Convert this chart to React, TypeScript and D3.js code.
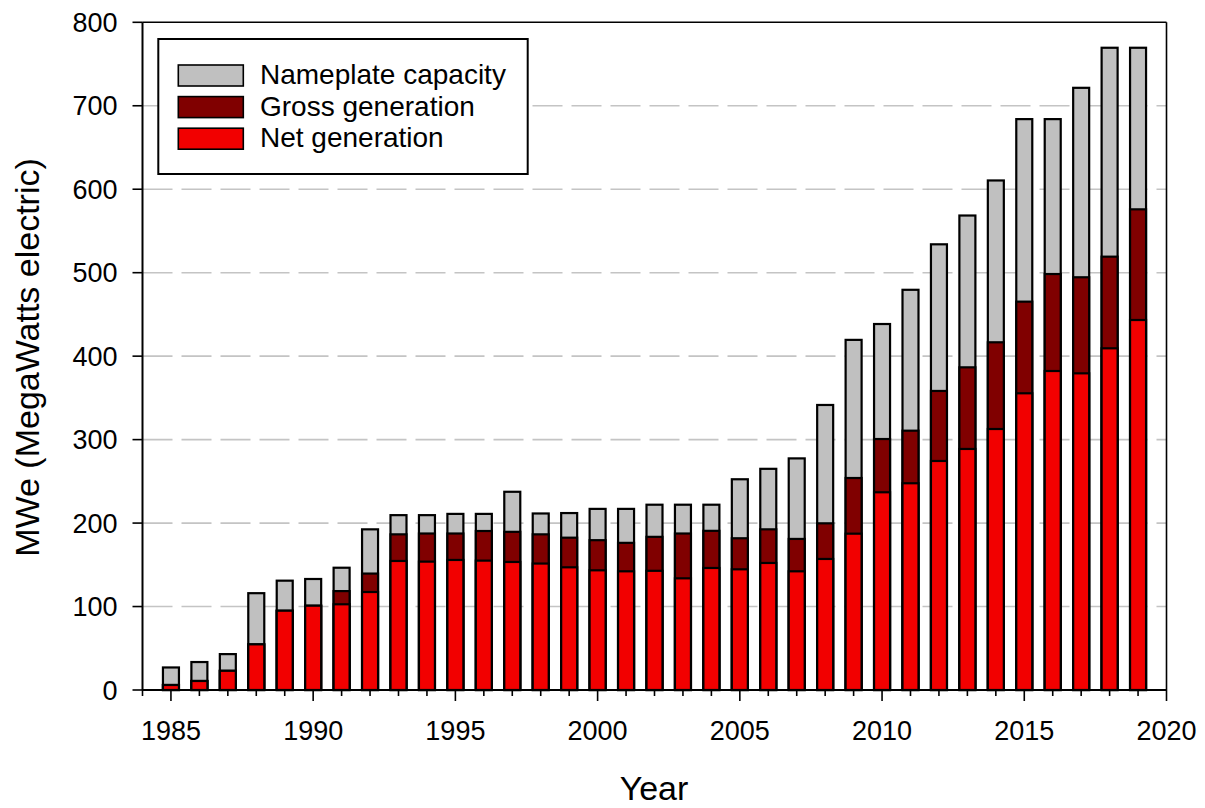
import React from "react";
import * as d3 from "d3";

const years = [1985,1986,1987,1988,1989,1990,1991,1992,1993,1994,1995,1996,1997,1998,1999,2000,2001,2002,2003,2004,2005,2006,2007,2008,2009,2010,2011,2012,2013,2014,2015,2016,2017,2018,2019];
const nameplate = [27,33.5,43,116,131,133,146.5,192.5,209.5,209.5,211,211,237.5,211.5,212,217,217,222,222,222,252.5,265,277.5,341.5,419.5,438.5,479.5,534,568.5,610.5,684,684,721.5,769.5,769.5];
const gross = [6,10.8,23,54.7,95,101,118.5,139.5,186.5,187.5,187.5,190.5,189.5,186.5,182.5,179.5,176.3,183.5,187.5,190.7,181.8,192.5,181,199.7,254,300.7,310.7,358.3,386.6,416.6,465.3,498.4,494.5,519.2,575.9];
const net = [6,10.8,23,54.7,95,101,102.7,117.4,154.6,153.8,155.8,155,153.4,151.5,147,143.4,142.2,142.8,133.8,146.2,144.6,152.2,142.2,157,187.3,236.9,247.7,274.4,288.8,312.7,355.5,382.2,379.4,409.4,443.3];
const yTicks = [0,100,200,300,400,500,600,700,800];
const xMajorTicks = [1985,1990,1995,2000,2005,2010,2015,2020];
const xMinorTicks = d3.range(1984, 2021);
const seriesNames = ["Nameplate capacity","Gross generation","Net generation"];
const seriesColors = ["#c0c0c0","#800000","#f20000"];

export default function App() {
  const W = 1205, H = 808;
  const left = 142.5, right = 1166.5, top = 22.3, bottom = 690;
  const x = d3.scaleLinear().domain([1984, 2020]).range([left, right]);
  const y = d3.scaleLinear().domain([0, 800]).range([bottom, top]);
  const bw = 16;
  const font = "Arial, 'Liberation Sans', sans-serif";
  const series = [nameplate, gross, net];

  return (
    <svg width={W} height={H} style={{ position: "absolute", left: 0, top: 0, background: "#fff" }} fontFamily={font}>
      {/* grid */}
      {yTicks.filter(t => t > 0 && t < 800).map(t => (
        <line key={"g"+t} x1={left} x2={right} y1={y(t)} y2={y(t)} stroke="#c4c4c4" strokeWidth={1.6} strokeDasharray="30 9" />
      ))}
      {/* bars */}
      {series.map((s, si) => (
        <g key={"s"+si}>
          {years.map((yr, i) => (
            <rect key={yr} x={x(yr) - bw/2} y={y(s[i])} width={bw} height={y(0) - y(s[i])}
              fill={seriesColors[si]} stroke="#000" strokeWidth={2.2} />
          ))}
        </g>
      ))}
      {/* frame */}
      <line x1={left} x2={right} y1={top} y2={top} stroke="#000" strokeWidth={1.6} />
      <line x1={right} x2={right} y1={top} y2={bottom} stroke="#000" strokeWidth={1.6} />
      {/* axes */}
      <line x1={left} x2={left} y1={top} y2={bottom} stroke="#000" strokeWidth={2} />
      <line x1={left} x2={right} y1={bottom} y2={bottom} stroke="#000" strokeWidth={2} />
      {yTicks.map(t => (
        <g key={"yt"+t}>
          <line x1={left - 10} x2={left} y1={y(t)} y2={y(t)} stroke="#000" strokeWidth={1.6} />
          <text x={117.5} y={y(t)} dy="0.36em" textAnchor="end" fontSize={27}>{t}</text>
        </g>
      ))}
      {xMinorTicks.map(t => (
        <line key={"xm"+t} x1={x(t)} x2={x(t)} y1={bottom} y2={bottom + (t % 5 === 0 ? 11 : 6)} stroke="#000" strokeWidth={1.6} />
      ))}
      {xMajorTicks.map(t => (
        <text key={"xl"+t} x={x(t)} y={739.5} textAnchor="middle" fontSize={27}>{t}</text>
      ))}
      {/* axis titles */}
      <text x={654} y={800} textAnchor="middle" fontSize={34}>Year</text>
      <text transform={`translate(39,357.5) rotate(-90)`} textAnchor="middle" fontSize={34}>MWe (MegaWatts electric)</text>
      {/* legend */}
      <rect x={158.3} y={39} width={369.4} height={135} fill="#fff" stroke="#000" strokeWidth={2} />
      {seriesNames.map((n, i) => (
        <g key={"l"+i}>
          <rect x={178.3} y={65 + i*31.6} width={65} height={21} fill={seriesColors[i]} stroke="#000" strokeWidth={1.6} />
          <text x={260} y={84 + i*31.6} fontSize={28}>{n}</text>
        </g>
      ))}
    </svg>
  );
}
